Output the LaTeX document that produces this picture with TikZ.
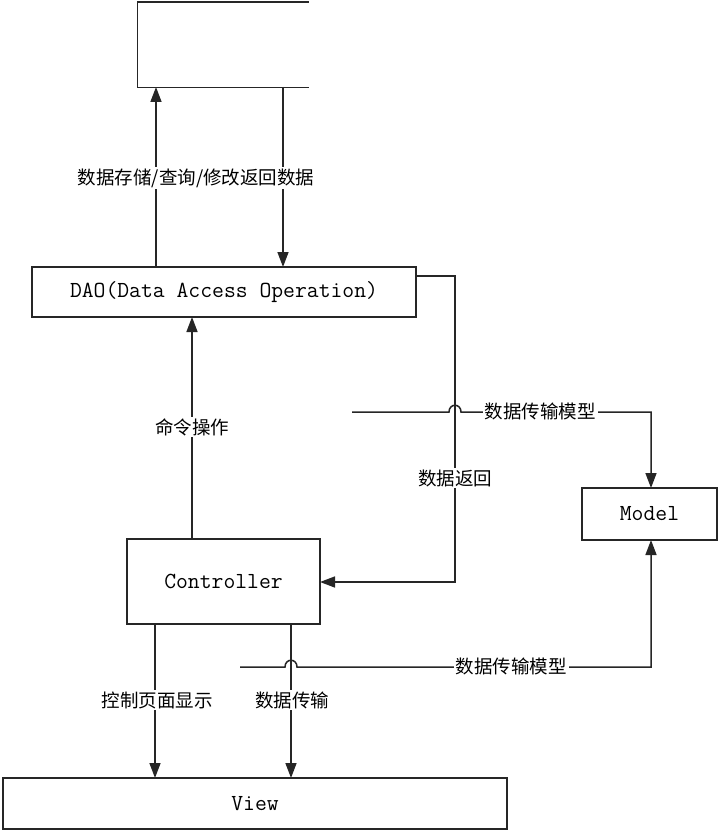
\documentclass[tikz,border=0pt]{standalone}
\usepackage{fontspec}
\newfontfamily\cjk{Noto Sans CJK SC}
\usetikzlibrary{arrows.meta}
\begin{document}
\begin{tikzpicture}[x=1pt,y=-1pt,
  line width=1.5pt, draw=black!85,
  box/.style={draw=black!85, line width=1.5pt, fill=white, inner sep=0pt, font=\fontsize{23}{27}\selectfont\ttfamily},
  lab/.style={fill=white, inner sep=1.5pt, font=\fontsize{18.5}{22}\selectfont\cjk},
  conn/.style={draw=black!85, line width=1.5pt},
  arr/.style={conn, -{Triangle[length=15pt,width=11pt]}}]
\useasboundingbox (0,0) rectangle (720,832);
\fill[white] (0,0) rectangle (720,832);
% nodes
\node[inner sep=0pt, minimum width=170pt, minimum height=84pt] (store) at (223,45) {};
\draw[conn] (store.north east) -- (store.north west) -- (store.south west) -- (store.south east);
\node[box, minimum width=384pt, minimum height=50pt] (dao) at (224,292) {DAO(Data Access Operation)};
\node[box, minimum width=193pt, minimum height=85pt] (ctrl) at (223.5,581.5) {Controller};
\node[box, minimum width=135pt, minimum height=52pt] (model) at (649.5,514) {Model};
\node[box, minimum width=504pt, minimum height=51pt] (view) at (255,803.5) {View};
% helper coordinates
\coordinate (a1) at (156,267);
\coordinate (a1t) at (156,87);
\coordinate (a2) at (283,87);
\coordinate (a2t) at (283,267);
\coordinate (r1) at (416,276);
\coordinate (r2) at (455,276);
\coordinate (r3) at (455,582);
\coordinate (r4) at (320,582);
\coordinate (c1) at (192,539);
\coordinate (c1t) at (192,317);
\coordinate (v1) at (155,624);
\coordinate (v1t) at (155,778);
\coordinate (v2) at (291,624);
\coordinate (v2t) at (291,778);
\coordinate (m1s) at (352,412);
\coordinate (m1a) at (449,412);
\coordinate (m1b) at (461,412);
\coordinate (m1c) at (651,412);
\coordinate (m1t) at (651,488);
\coordinate (m2s) at (240,667);
\coordinate (m2a) at (285,667);
\coordinate (m2b) at (297,667);
\coordinate (m2c) at (651,667);
\coordinate (m2t) at (651,540);
% connectors
\draw[arr] (a1) -- (a1t);
\draw[arr] (a2) -- (a2t);
\draw[arr] (r1) -- (r2) -- (r3) -- (r4);
\draw[arr] (c1) -- (c1t);
\draw[arr] (v1) -- (v1t);
\draw[arr] (v2) -- (v2t);
\draw[arr] (m1s) -- (m1a) .. controls (449,403) and (461,403) .. (m1b) -- (m1c) -- (m1t);
\draw[arr] (m2s) -- (m2a) .. controls (285,658) and (297,658) .. (m2b) -- (m2c) -- (m2t);
% labels
\node[lab] (l1) at (196,178) {数据存储/查询/修改返回数据};
\node[lab] (l2) at (192,427) {命令操作};
\node[lab] (l3) at (455,478) {数据返回};
\node[lab, inner xsep=2pt] (l4) at (540,411) {数据传输模型};
\node[lab, inner xsep=2pt] (l5) at (511,666) {数据传输模型};
\node[lab] (l6) at (157,700) {控制页面显示};
\node[lab] (l7) at (292,700) {数据传输};
\end{tikzpicture}
\end{document}
